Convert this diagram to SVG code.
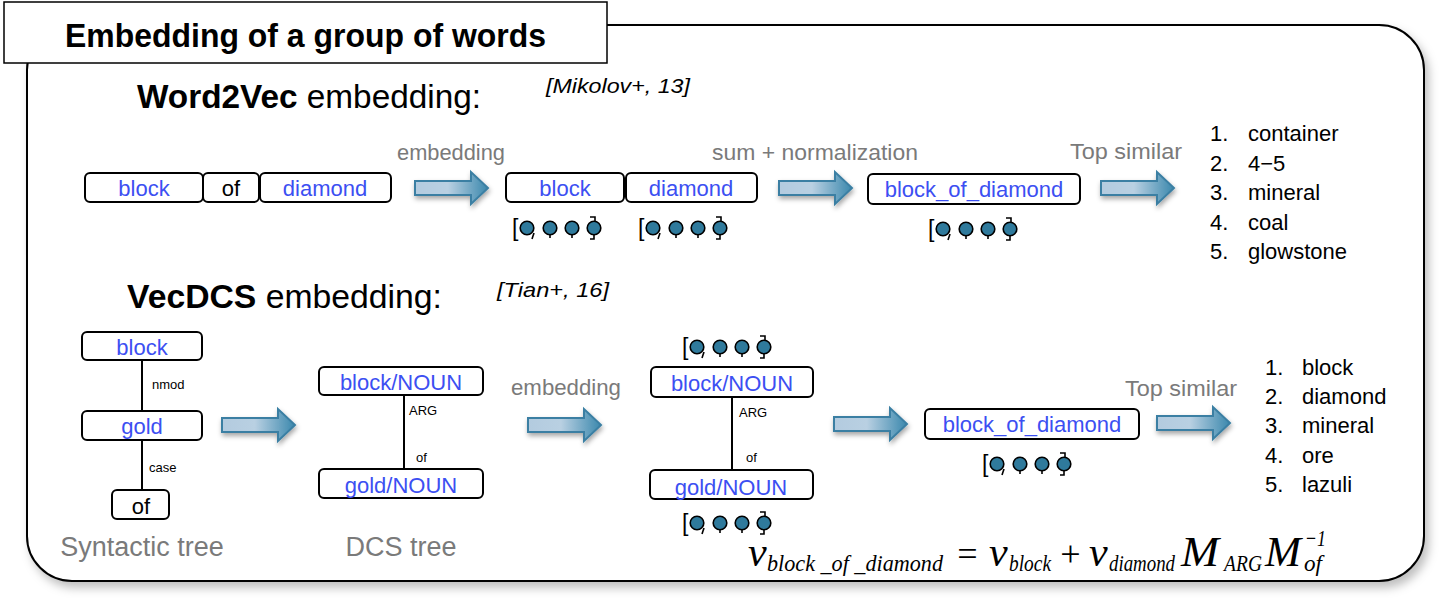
<svg xmlns="http://www.w3.org/2000/svg" xmlns:xlink="http://www.w3.org/1999/xlink" width="1444" height="599" viewBox="0 0 1444 599">
<defs>
<style>
.box{fill:#fff;stroke:#000;stroke-width:2}
.bt{font-family:"Liberation Sans",Arial,sans-serif;font-size:22px;fill:#3c4ff2;text-anchor:middle}
.kt{font-family:"Liberation Sans",Arial,sans-serif;font-size:22px;fill:#000;text-anchor:middle}
.gray{font-family:"Liberation Sans",Arial,sans-serif;font-size:22px;fill:#7a7a7a}
.gbig{font-family:"Liberation Sans",Arial,sans-serif;font-size:27px;fill:#7a7a7a;text-anchor:middle}
.head{font-family:"Liberation Sans",Arial,sans-serif;font-size:34px;fill:#000}
.cite{font-family:"Liberation Sans",Arial,sans-serif;font-size:21px;font-style:italic;fill:#000}
.lst{font-family:"Liberation Sans",Arial,sans-serif;font-size:22px;fill:#000}
.edge{stroke:#000;stroke-width:2;fill:none}
.el{font-family:"Liberation Sans",Arial,sans-serif;font-size:13px;fill:#000}
.arr{fill:url(#ag);stroke:#3a7fa3;stroke-width:2;filter:url(#sh)}
.dot{fill:#2f7a9c;stroke:#000;stroke-width:1.6}
.br{font-family:"Liberation Sans",Arial,sans-serif;font-size:23px;fill:#000}
.math{font-family:"Liberation Serif","Times New Roman",serif;font-style:italic;fill:#000}
</style>
<linearGradient id="ag" x1="0" y1="0" x2="1" y2="0">
<stop offset="0" stop-color="#b3cbdf"/>
<stop offset="0.45" stop-color="#b9d0e2"/>
<stop offset="1" stop-color="#3b88ad"/>
</linearGradient>
<filter id="sh" x="-20%" y="-30%" width="150%" height="180%">
<feDropShadow dx="1" dy="3" stdDeviation="2.5" flood-color="#000" flood-opacity="0.35"/>
</filter>
<filter id="fsh" x="-5%" y="-5%" width="110%" height="115%">
<feDropShadow dx="4" dy="6" stdDeviation="5" flood-color="#000" flood-opacity="0.25"/>
</filter>
<path id="arrow" d="M0,-7 H56 V-16 L73,0 L56,16 V7 H0 Z"/>
<g id="vec">
<text class="br" x="0" y="8">[</text>
<circle class="dot" cx="15" cy="0" r="6.8"/>
<path d="M22,5 L20,11" stroke="#000" stroke-width="1.6"/>
<circle class="dot" cx="38" cy="0" r="6.8"/>
<path d="M38,6.8 V10" stroke="#000" stroke-width="1.6"/>
<circle class="dot" cx="60" cy="0" r="6.8"/>
<path d="M60,6.8 V10" stroke="#000" stroke-width="1.6"/>
<circle class="dot" cx="82" cy="0" r="6.8"/>
<path d="M78,-11 H83 V-6.8 M82,6.8 V11 H78" stroke="#000" stroke-width="1.6" fill="none"/>
</g>
</defs>
<rect width="1444" height="599" fill="#fff"/>

<g id="frame">
<rect x="27" y="25" width="1397" height="556" rx="45" ry="45" fill="#fff" stroke="#000" stroke-width="2" filter="url(#fsh)"/>
</g>
<g id="title">
<rect x="4" y="2" width="603" height="61" fill="#fff" stroke="#000" stroke-width="1.5"/>
<text class="head" x="65" y="47" font-weight="bold" textLength="481" lengthAdjust="spacingAndGlyphs">Embedding of a group of words</text>
</g>

<g id="w2v-heading">
<text class="head" x="137" y="108" textLength="344" lengthAdjust="spacingAndGlyphs"><tspan font-weight="bold">Word2Vec</tspan> embedding:</text>
<text class="cite" x="546" y="93" textLength="144" lengthAdjust="spacingAndGlyphs">[Mikolov+, 13]</text>
</g>

<g id="connectors">
<use xlink:href="#arrow" class="arr" transform="translate(415,188)"/>
<use xlink:href="#arrow" class="arr" transform="translate(779,188)"/>
<use xlink:href="#arrow" class="arr" transform="translate(1101,188)"/>
<use xlink:href="#arrow" class="arr" transform="translate(222,425)"/>
<use xlink:href="#arrow" class="arr" transform="translate(528,425)"/>
<use xlink:href="#arrow" class="arr" transform="translate(834,424)"/>
<use xlink:href="#arrow" class="arr" transform="translate(1157,423)"/>
<line class="edge" x1="142" y1="360" x2="142" y2="411"/>
<line class="edge" x1="142" y1="440" x2="142" y2="490"/>
<line class="edge" x1="404" y1="395" x2="404" y2="469"/>
<line class="edge" x1="732" y1="397" x2="732" y2="470"/>
<text class="el" x="152" y="389">nmod</text>
<text class="el" x="149" y="472">case</text>
<text class="el" x="409" y="415">ARG</text>
<text class="el" x="416" y="462">of</text>
<text class="el" x="739" y="417">ARG</text>
<text class="el" x="746" y="462">of</text>
</g>

<g id="w2v-labels">
<text class="gray" x="397" y="160" textLength="108" lengthAdjust="spacingAndGlyphs">embedding</text>
<text class="gray" x="712" y="160" textLength="206" lengthAdjust="spacingAndGlyphs">sum + normalization</text>
<text class="gray" x="1070" y="159" textLength="112" lengthAdjust="spacingAndGlyphs">Top similar</text>
</g>

<g id="w-block"><rect class="box" x="85" y="173" width="118" height="29" rx="5"/><text class="bt" x="144" y="196">block</text></g>
<g id="w-of"><rect class="box" x="203" y="173" width="56" height="29" rx="5"/><text class="kt" x="231" y="196">of</text></g>
<g id="w-diamond"><rect class="box" x="260" y="173" width="131" height="29" rx="5"/><text class="bt" x="325" y="196">diamond</text></g>

<g id="e-block"><rect class="box" x="506" y="173" width="118" height="29" rx="5"/><text class="bt" x="565" y="196">block</text><use xlink:href="#vec" x="512" y="228"/></g>
<g id="e-diamond"><rect class="box" x="626" y="173" width="131" height="29" rx="5"/><text class="bt" x="691" y="196">diamond</text><use xlink:href="#vec" x="638" y="228"/></g>

<g id="w2v-result"><rect class="box" x="868" y="174" width="212" height="30" rx="5"/><text class="bt" x="974" y="197">block_of_diamond</text><use xlink:href="#vec" x="928" y="229"/></g>

<g id="w2v-list" class="lst">
<text x="1210" y="141">1.</text><text x="1248" y="141">container</text>
<text x="1210" y="171">2.</text><text x="1248" y="171">4−5</text>
<text x="1210" y="200">3.</text><text x="1248" y="200">mineral</text>
<text x="1210" y="230">4.</text><text x="1248" y="230">coal</text>
<text x="1210" y="259">5.</text><text x="1248" y="259">glowstone</text>
</g>

<g id="vecdcs-heading">
<text class="head" x="127" y="308" textLength="315" lengthAdjust="spacingAndGlyphs"><tspan font-weight="bold">VecDCS</tspan> embedding:</text>
<text class="cite" x="497" y="297" textLength="112" lengthAdjust="spacingAndGlyphs">[Tian+, 16]</text>
</g>

<g id="s-block"><rect class="box" x="82" y="332" width="120" height="28" rx="5"/><text class="bt" x="142" y="355">block</text></g>
<g id="s-gold"><rect class="box" x="82" y="411" width="120" height="29" rx="5"/><text class="bt" x="142" y="434">gold</text></g>
<g id="s-of"><rect class="box" x="112" y="490" width="57" height="29" rx="5"/><text class="kt" x="141" y="514">of</text></g>
<text class="gbig" x="142" y="556">Syntactic tree</text>

<g id="d-block"><rect class="box" x="319" y="367" width="164" height="28" rx="5"/><text class="bt" x="401" y="390">block/NOUN</text></g>
<g id="d-gold"><rect class="box" x="319" y="469" width="164" height="29" rx="5"/><text class="bt" x="401" y="493">gold/NOUN</text></g>
<text class="gbig" x="401" y="556">DCS tree</text>

<text class="gray" x="511" y="395" textLength="110" lengthAdjust="spacingAndGlyphs">embedding</text>

<g id="de-block"><rect class="box" x="651" y="367" width="162" height="30" rx="5"/><text class="bt" x="732" y="391">block/NOUN</text><use xlink:href="#vec" x="682" y="347"/></g>
<g id="de-gold"><rect class="box" x="650" y="470" width="163" height="29" rx="5"/><text class="bt" x="731" y="495">gold/NOUN</text><use xlink:href="#vec" x="682" y="523"/></g>

<g id="dcs-result"><rect class="box" x="925" y="409" width="214" height="30" rx="5"/><text class="bt" x="1032" y="432">block_of_diamond</text><use xlink:href="#vec" x="982" y="464"/></g>

<text class="gray" x="1125" y="396" textLength="112" lengthAdjust="spacingAndGlyphs">Top similar</text>

<g id="dcs-list" class="lst">
<text x="1265" y="375">1.</text><text x="1302" y="375">block</text>
<text x="1265" y="404">2.</text><text x="1302" y="404">diamond</text>
<text x="1265" y="433">3.</text><text x="1302" y="433">mineral</text>
<text x="1265" y="463">4.</text><text x="1302" y="463">ore</text>
<text x="1265" y="492">5.</text><text x="1302" y="492">lazuli</text>
</g>

<g id="formula">
<text class="math" x="748" y="566" font-size="42">v</text>
<text class="math" x="767" y="571" font-size="23" textLength="176" lengthAdjust="spacingAndGlyphs">block _of _diamond</text>
<text class="math" x="955" y="566" font-size="36" font-style="normal">=</text>
<text class="math" x="989" y="566" font-size="42">v</text>
<text class="math" x="1009" y="571" font-size="23" textLength="42" lengthAdjust="spacingAndGlyphs">block</text>
<text class="math" x="1058" y="566" font-size="36" font-style="normal">+</text>
<text class="math" x="1089" y="566" font-size="42">v</text>
<text class="math" x="1109" y="571" font-size="23" textLength="66" lengthAdjust="spacingAndGlyphs">diamond</text>
<text class="math" x="1181" y="566" font-size="42" textLength="38" lengthAdjust="spacingAndGlyphs">M</text>
<text class="math" x="1224" y="571" font-size="23" textLength="38" lengthAdjust="spacingAndGlyphs">ARG</text>
<text class="math" x="1265" y="566" font-size="42" textLength="36" lengthAdjust="spacingAndGlyphs">M</text>
<text class="math" x="1304" y="571" font-size="23" textLength="18" lengthAdjust="spacingAndGlyphs">of</text>
<text class="math" x="1305" y="546" font-size="23" font-style="normal" textLength="21" lengthAdjust="spacingAndGlyphs">−1</text>
</g>
</svg>
